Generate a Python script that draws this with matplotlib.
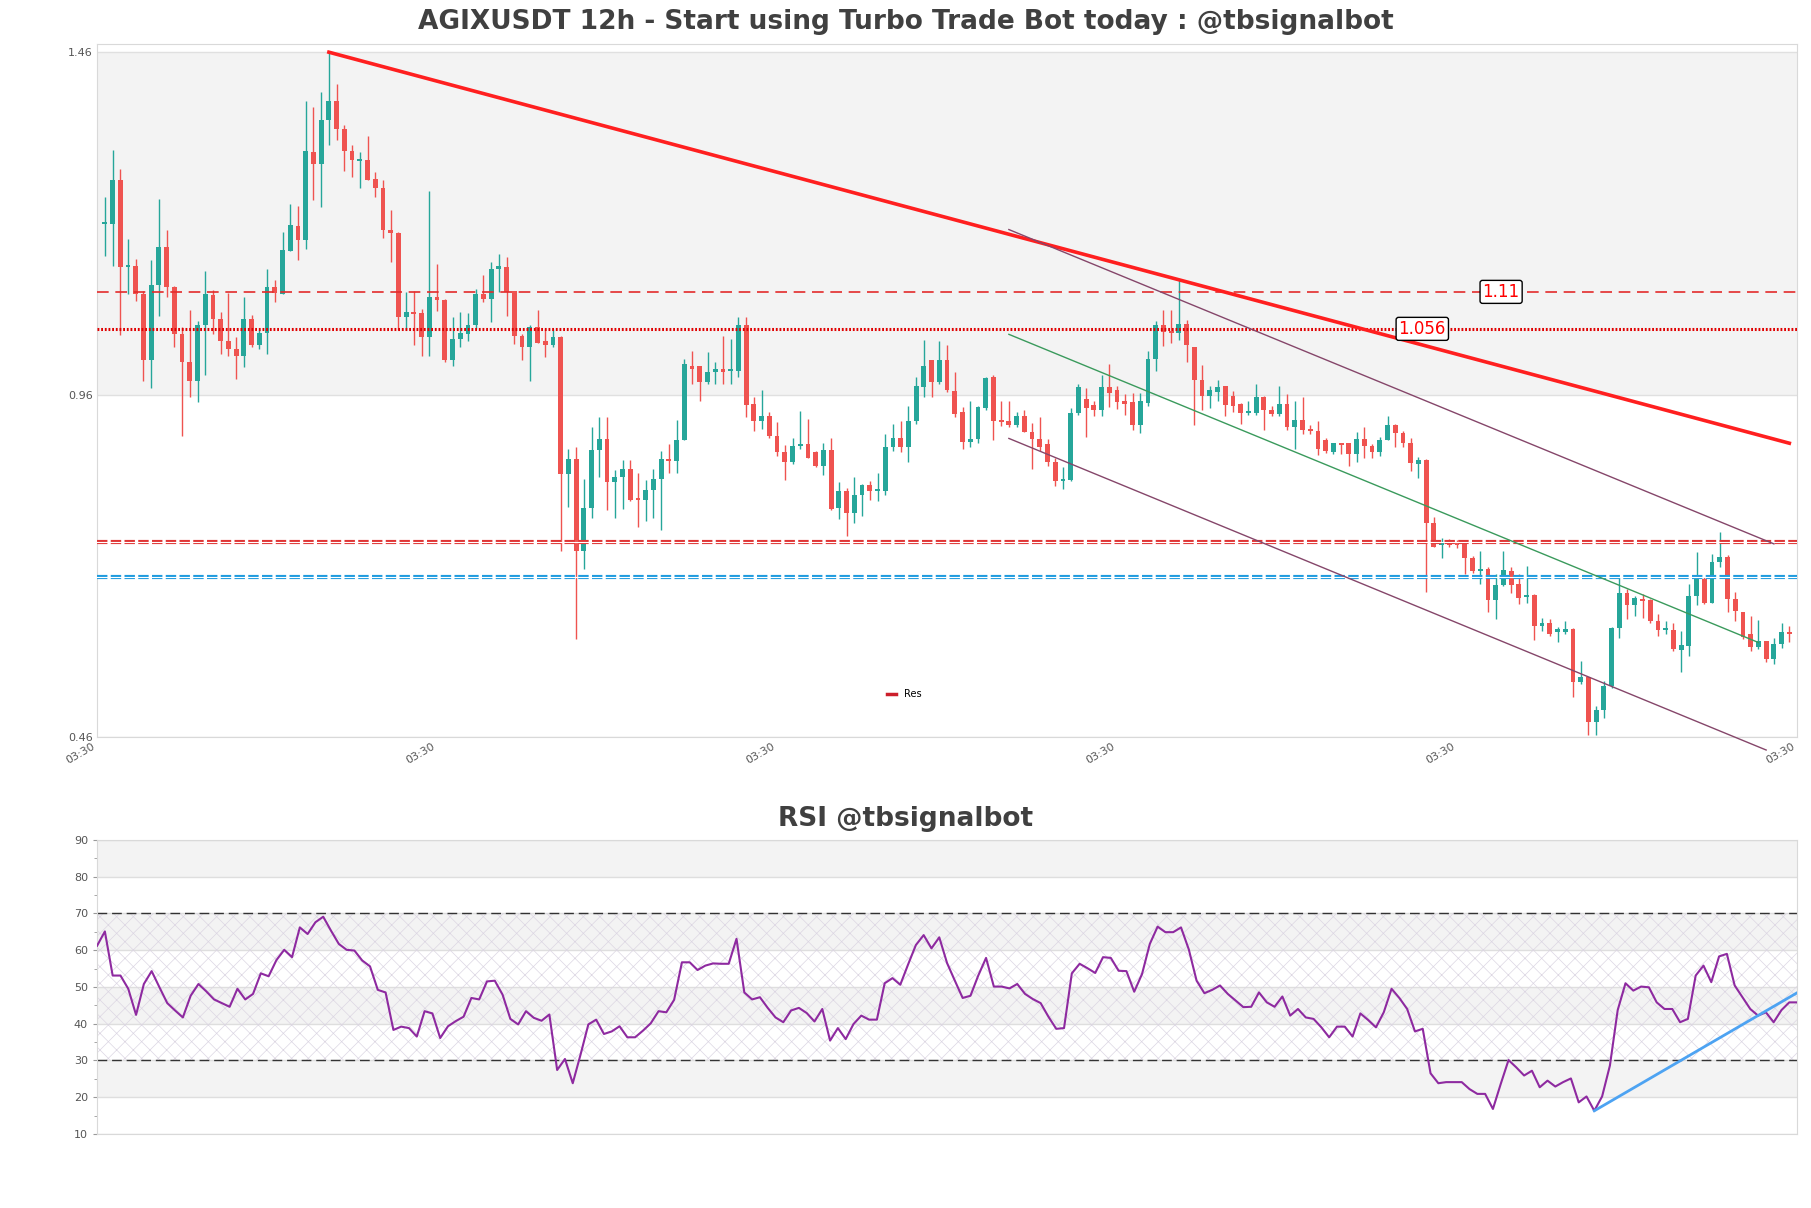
import matplotlib
matplotlib.use("Agg")
import matplotlib.pyplot as plt
from matplotlib.lines import Line2D
import numpy as np

# ---- candle data (12h) ----
opens = [1.209, 1.209, 1.273, 1.146, 1.148, 1.107, 1.010, 1.120, 1.175, 1.117,
         1.049, 1.008, 0.980, 1.061, 1.105, 1.071, 1.038, 1.027, 1.016, 1.071,
         1.033, 1.050, 1.117, 1.107, 1.170, 1.206, 1.186, 1.314, 1.297, 1.361,
         1.388, 1.348, 1.316, 1.301, 1.303, 1.275, 1.261, 1.201, 1.196, 1.073,
         1.080, 1.079, 1.044, 1.103, 1.098, 1.011, 1.041, 1.049, 1.061, 1.107,
         1.100, 1.143, 1.146, 1.111, 1.046, 1.029, 1.058, 1.038, 1.033, 1.044,
         0.844, 0.866, 0.731, 0.794, 0.879, 0.895, 0.832, 0.839, 0.852, 0.808,
         0.806, 0.821, 0.837, 0.866, 0.863, 0.893, 1.002, 1.002, 0.978, 0.993,
         0.998, 0.995, 0.994, 1.062, 0.946, 0.922, 0.929, 0.900, 0.876, 0.861,
         0.885, 0.888, 0.876, 0.856, 0.879, 0.795, 0.819, 0.787, 0.813, 0.828,
         0.819, 0.819, 0.884, 0.896, 0.884, 0.922, 0.971, 1.010, 0.978, 1.010,
         0.965, 0.934, 0.891, 0.895, 0.941, 0.985, 0.921, 0.921, 0.915, 0.929,
         0.906, 0.895, 0.888, 0.861, 0.834, 0.836, 0.933, 0.953, 0.945, 0.938,
         0.971, 0.966, 0.950, 0.949, 0.915, 0.947, 1.012, 1.061, 1.053, 1.050,
         1.063, 1.029, 0.982, 0.958, 0.964, 0.972, 0.958, 0.946, 0.933, 0.933,
         0.956, 0.937, 0.932, 0.946, 0.913, 0.923, 0.908, 0.907, 0.894, 0.876,
         0.889, 0.889, 0.873, 0.895, 0.885, 0.876, 0.894, 0.916, 0.904, 0.890,
         0.859, 0.864, 0.772, 0.740, 0.742, 0.742, 0.744, 0.721, 0.703, 0.705,
         0.660, 0.682, 0.703, 0.684, 0.664, 0.668, 0.622, 0.627, 0.614, 0.614,
         0.617, 0.541, 0.548, 0.482, 0.499, 0.535, 0.619, 0.671, 0.653, 0.661,
         0.660, 0.630, 0.616, 0.616, 0.587, 0.593, 0.666, 0.691, 0.656, 0.715,
         0.723, 0.661, 0.643, 0.610, 0.592, 0.600, 0.574, 0.596, 0.614]

highs = [1.249, 1.317, 1.290, 1.187, 1.158, 1.112, 1.156, 1.246, 1.200, 1.118,
         1.059, 1.083, 1.068, 1.140, 1.113, 1.080, 1.109, 1.044, 1.103, 1.076,
         1.054, 1.144, 1.128, 1.197, 1.238, 1.236, 1.388, 1.380, 1.402, 1.460,
         1.413, 1.354, 1.325, 1.314, 1.337, 1.285, 1.273, 1.229, 1.197, 1.110,
         1.112, 1.085, 1.258, 1.150, 1.100, 1.073, 1.080, 1.079, 1.114, 1.135,
         1.153, 1.166, 1.161, 1.112, 1.049, 1.061, 1.083, 1.056, 1.056, 1.046,
         0.881, 0.883, 0.837, 0.912, 0.928, 0.928, 0.850, 0.864, 0.864, 0.846,
         0.836, 0.851, 0.878, 0.888, 0.923, 1.012, 1.024, 1.002, 1.022, 1.008,
         1.046, 1.041, 1.073, 1.073, 0.956, 0.966, 0.935, 0.920, 0.887, 0.897,
         0.936, 0.924, 0.878, 0.890, 0.896, 0.833, 0.824, 0.839, 0.830, 0.834,
         0.846, 0.902, 0.917, 0.922, 0.944, 0.985, 1.039, 1.010, 1.038, 1.033,
         0.993, 0.942, 0.951, 0.944, 0.986, 0.988, 0.951, 0.951, 0.934, 0.937,
         0.918, 0.928, 0.895, 0.868, 0.854, 0.941, 0.976, 0.969, 0.951, 0.988,
         1.005, 0.973, 0.961, 0.963, 0.963, 1.024, 1.068, 1.083, 1.083, 1.127,
         1.069, 1.029, 1.003, 0.972, 0.982, 0.972, 0.965, 0.948, 0.950, 0.976,
         0.958, 0.944, 0.973, 0.961, 0.951, 0.956, 0.915, 0.922, 0.896, 0.890,
         0.890, 0.890, 0.905, 0.912, 0.888, 0.898, 0.929, 0.917, 0.907, 0.897,
         0.869, 0.866, 0.781, 0.751, 0.749, 0.748, 0.746, 0.725, 0.731, 0.708,
         0.698, 0.731, 0.708, 0.698, 0.710, 0.669, 0.634, 0.633, 0.620, 0.629,
         0.619, 0.571, 0.548, 0.505, 0.542, 0.620, 0.693, 0.676, 0.666, 0.669,
         0.661, 0.639, 0.630, 0.627, 0.615, 0.684, 0.730, 0.693, 0.727, 0.759,
         0.726, 0.672, 0.643, 0.637, 0.631, 0.600, 0.604, 0.627, 0.622]

lows = [1.162, 1.148, 1.047, 1.107, 1.097, 0.980, 0.969, 1.075, 1.102, 1.029,
        0.900, 0.957, 0.949, 0.988, 1.049, 1.020, 1.017, 0.983, 1.000, 1.029,
        1.027, 1.020, 1.095, 1.107, 1.170, 1.156, 1.173, 1.244, 1.234, 1.324,
        1.332, 1.287, 1.278, 1.262, 1.273, 1.249, 1.189, 1.153, 1.054, 1.054,
        1.032, 1.017, 1.017, 1.082, 1.007, 1.002, 1.030, 1.038, 1.056, 1.095,
        1.066, 1.110, 1.075, 1.034, 1.011, 0.980, 1.035, 1.015, 1.030, 0.732,
        0.796, 0.603, 0.706, 0.780, 0.840, 0.792, 0.780, 0.793, 0.805, 0.767,
        0.775, 0.780, 0.763, 0.846, 0.846, 0.893, 0.976, 0.951, 0.976, 0.976,
        0.975, 0.976, 0.985, 0.927, 0.907, 0.910, 0.896, 0.870, 0.836, 0.859,
        0.880, 0.867, 0.854, 0.843, 0.791, 0.779, 0.754, 0.772, 0.783, 0.806,
        0.805, 0.814, 0.878, 0.876, 0.862, 0.917, 0.956, 0.956, 0.975, 0.964,
        0.927, 0.880, 0.884, 0.889, 0.937, 0.894, 0.914, 0.912, 0.912, 0.906,
        0.852, 0.878, 0.856, 0.827, 0.822, 0.834, 0.930, 0.898, 0.929, 0.929,
        0.942, 0.939, 0.930, 0.909, 0.904, 0.944, 0.994, 1.031, 1.036, 1.040,
        1.008, 0.915, 0.937, 0.941, 0.950, 0.929, 0.935, 0.917, 0.930, 0.930,
        0.908, 0.929, 0.929, 0.908, 0.881, 0.902, 0.902, 0.872, 0.874, 0.873,
        0.873, 0.856, 0.861, 0.868, 0.868, 0.871, 0.893, 0.883, 0.883, 0.848,
        0.838, 0.672, 0.738, 0.721, 0.737, 0.736, 0.698, 0.700, 0.683, 0.643,
        0.633, 0.681, 0.671, 0.654, 0.656, 0.601, 0.615, 0.608, 0.599, 0.610,
        0.518, 0.537, 0.463, 0.463, 0.488, 0.532, 0.605, 0.633, 0.637, 0.634,
        0.627, 0.608, 0.610, 0.586, 0.555, 0.578, 0.653, 0.654, 0.655, 0.708,
        0.642, 0.630, 0.603, 0.585, 0.588, 0.570, 0.566, 0.590, 0.598]

closes = [1.210, 1.273, 1.146, 1.149, 1.107, 1.010, 1.120, 1.175, 1.117, 1.049,
          1.007, 0.980, 1.061, 1.107, 1.071, 1.038, 1.027, 1.016, 1.071, 1.033,
          1.050, 1.117, 1.109, 1.171, 1.207, 1.186, 1.315, 1.297, 1.361, 1.388,
          1.348, 1.316, 1.302, 1.303, 1.274, 1.261, 1.200, 1.196, 1.073, 1.080,
          1.078, 1.044, 1.102, 1.098, 1.010, 1.041, 1.050, 1.061, 1.107, 1.100,
          1.143, 1.148, 1.110, 1.046, 1.029, 1.058, 1.036, 1.033, 1.044, 0.844,
          0.866, 0.731, 0.794, 0.879, 0.895, 0.832, 0.839, 0.851, 0.806, 0.806,
          0.821, 0.837, 0.866, 0.863, 0.893, 1.005, 0.998, 0.978, 0.993, 0.998,
          0.993, 0.997, 1.062, 0.945, 0.922, 0.929, 0.900, 0.876, 0.861, 0.885,
          0.888, 0.868, 0.856, 0.879, 0.793, 0.819, 0.787, 0.813, 0.828, 0.819,
          0.820, 0.884, 0.896, 0.884, 0.922, 0.972, 1.002, 0.978, 1.010, 0.966,
          0.932, 0.891, 0.895, 0.942, 0.984, 0.921, 0.920, 0.915, 0.929, 0.906,
          0.895, 0.883, 0.861, 0.834, 0.836, 0.933, 0.971, 0.941, 0.937, 0.971,
          0.963, 0.949, 0.946, 0.915, 0.951, 1.012, 1.061, 1.051, 1.050, 1.063,
          1.032, 0.981, 0.958, 0.966, 0.971, 0.945, 0.944, 0.933, 0.936, 0.956,
          0.937, 0.932, 0.946, 0.912, 0.923, 0.908, 0.907, 0.881, 0.878, 0.889,
          0.887, 0.873, 0.895, 0.885, 0.876, 0.894, 0.916, 0.904, 0.890, 0.860,
          0.864, 0.772, 0.738, 0.742, 0.741, 0.741, 0.721, 0.703, 0.705, 0.660,
          0.682, 0.704, 0.682, 0.663, 0.666, 0.622, 0.627, 0.610, 0.616, 0.617,
          0.541, 0.548, 0.482, 0.499, 0.535, 0.619, 0.671, 0.653, 0.663, 0.659,
          0.630, 0.616, 0.617, 0.588, 0.594, 0.666, 0.691, 0.656, 0.715, 0.723,
          0.661, 0.644, 0.606, 0.592, 0.600, 0.574, 0.596, 0.614, 0.610]

rsi_values = [61.2, 65.1, 53.1, 53.1, 49.5, 42.4, 50.8, 54.3, 49.9, 45.6,
              43.6, 41.7, 47.6, 50.8, 48.8, 46.6, 45.6, 44.6, 49.5, 46.6,
              48.1, 53.7, 52.9, 57.3, 60.1, 58.1, 66.2, 64.4, 67.6, 69.1,
              65.3, 61.7, 60.1, 59.9, 57.2, 55.6, 49.2, 48.5, 38.3, 39.2,
              38.8, 36.5, 43.4, 42.8, 36.1, 39.3, 40.7, 41.9, 47.0, 46.6,
              51.5, 51.7, 47.9, 41.3, 39.8, 43.4, 41.6, 40.8, 42.5, 27.4,
              30.4, 23.8, 31.6, 39.8, 41.1, 37.2, 37.9, 39.3, 36.3, 36.3,
              38.1, 40.1, 43.4, 43.1, 46.5, 56.7, 56.7, 54.6, 55.8, 56.4,
              56.3, 56.3, 63.1, 48.5, 46.6, 47.2, 44.3, 41.7, 40.4, 43.6,
              44.3, 42.9, 40.6, 44.0, 35.4, 38.8, 35.8, 39.9, 42.2, 41.1,
              41.1, 51.0, 52.4, 50.6, 56.1, 61.4, 64.1, 60.5, 63.5, 56.5,
              51.7, 47.0, 47.6, 53.1, 57.9, 50.1, 50.1, 49.6, 50.8, 48.1,
              46.7, 45.6, 41.9, 38.6, 38.8, 53.7, 56.3, 55.1, 53.8, 58.1,
              57.9, 54.4, 54.3, 48.7, 53.5, 61.7, 66.4, 64.9, 64.9, 66.2,
              60.2, 51.7, 48.3, 49.2, 50.4, 48.1, 46.3, 44.5, 44.6, 48.5,
              45.8, 44.6, 47.4, 42.2, 44.0, 41.7, 41.3, 39.0, 36.3, 39.2,
              39.2, 36.5, 42.8, 41.0, 39.0, 43.1, 49.5, 47.0, 44.0, 37.9,
              38.6, 26.5, 23.8, 24.1, 24.1, 24.1, 22.2, 20.9, 20.9, 16.8,
              23.6, 30.1, 28.1, 25.9, 27.2, 22.7, 24.5, 22.9, 24.1, 25.1,
              18.6, 20.2, 16.3, 20.2, 28.6, 43.7, 51.0, 49.0, 50.1, 49.9,
              45.8, 44.0, 44.0, 40.4, 41.3, 53.1, 55.8, 51.3, 58.3, 59.0,
              50.4, 47.2, 44.0, 42.2, 43.1, 40.4, 43.7, 45.8, 45.8]

# axis labels / levels
price_ticks = [0.46, 0.96, 1.46]
time_ticks = [-1, 43, 87, 131, 175, 219]
time_labels = ["03:30"] * 6
rsi_ticks = [10, 20, 30, 40, 50, 60, 70, 80, 90]

level_dashed = 1.11
level_dotted = 1.056
level_red = 0.745
level_blue = 0.694

# trend lines (candle index, price)
res_x = [29, 218]
res_y = [1.46, 0.889]
chan_upper_x, chan_upper_y = [117, 216], [1.201, 0.742]
chan_mid_x, chan_mid_y = [117, 214], [1.048, 0.598]
chan_lower_x, chan_lower_y = [117, 215], [0.896, 0.441]
rsi_trend_x = [192, 218]
rsi_trend_y = [16.3, 48.4]

UP = "#26a69a"
DOWN = "#ef5350"
BAND = "#f3f3f3"
TXT = "#555555"

plt.rcParams["hatch.linewidth"] = 0.5

fig = plt.figure(figsize=(18.11, 12.08), dpi=100)
ax = fig.add_axes([0.0536, 0.3899, 0.9387, 0.5737])
ax2 = fig.add_axes([0.0536, 0.0613, 0.9387, 0.2434])

# ---- price panel ----
o = np.array(opens)
h = np.array(highs)
l = np.array(lows)
c = np.array(closes)
x = np.arange(len(o))
colors = np.where(c >= o, UP, DOWN)

ax.axhspan(0.96, 1.46, color=BAND, zorder=0, lw=0)
ax.vlines(x, l, h, color=colors, lw=1, zorder=3)
ax.bar(x, np.maximum(np.abs(c - o), 0.003), bottom=np.minimum(o, c),
       width=0.62, color=colors, lw=0, zorder=4)

ax.axhline(level_dashed, color="#e32b2b", lw=1.2, dashes=(7, 4), zorder=5)
ax.axhline(level_dotted, color="#e00000", lw=2.2, linestyle=(0, (0.6, 0.6)), zorder=5)
ax.axhline(level_red, color="#e03535", lw=3, dashes=(2.5, 0.8), zorder=5)
ax.axhline(level_red, color="white", lw=0.8, zorder=5)
ax.axhline(level_blue, color="#1f9bde", lw=3, dashes=(2.5, 0.8), zorder=5)
ax.axhline(level_blue, color="white", lw=0.8, zorder=5)

ax.plot(res_x, res_y, color="#ff1f1f", lw=2.6, zorder=6)
ax.plot(chan_upper_x, chan_upper_y, color="#85466a", lw=1, zorder=6, clip_on=False)
ax.plot(chan_lower_x, chan_lower_y, color="#85466a", lw=1, zorder=6, clip_on=False)
ax.plot(chan_mid_x, chan_mid_y, color="#3a9a5c", lw=1, zorder=6)

box = dict(boxstyle="round,pad=0.15", fc="white", ec="black", lw=1)
ax.text(180.7, level_dashed, "1.11", color="red", fontsize=12,
        ha="center", va="center", bbox=box, zorder=7)
ax.text(170.5, level_dotted, "1.056", color="red", fontsize=12,
        ha="center", va="center", bbox=box, zorder=7)

ax.legend(handles=[Line2D([], [], color="#cc1f2b", lw=2.5)], labels=["Res"],
          loc="center", bbox_to_anchor=(0.475, 0.062), frameon=False,
          fontsize=7, handlelength=0.9)

ax.set_xlim(-1, 219)
ax.set_ylim(0.46, 1.472)
ax.set_yticks(price_ticks)
ax.set_yticklabels([f"{v:.2f}" for v in price_ticks])
ax.set_xticks(time_ticks)
ax.set_xticklabels(time_labels, rotation=30, ha="right")
ax.tick_params(length=0, labelsize=8, labelcolor=TXT, pad=3)
ax.grid(axis="y", color="#e0e0e0", lw=1)
ax.set_axisbelow(True)
for s in ax.spines.values():
    s.set_color("#d9d9d9")

# ---- RSI panel ----
for lo in (20, 40, 60, 80):
    ax2.axhspan(lo, lo + 10, color=BAND, zorder=0, lw=0)
ax2.axhspan(30, 70, facecolor="none", edgecolor="#dcd6e3", hatch="xx", lw=0, zorder=0.6)
ax2.axhline(30, color="#333333", lw=1, dashes=(7, 3.5), zorder=2)
ax2.axhline(70, color="#333333", lw=1, dashes=(7, 3.5), zorder=2)
ax2.plot(np.arange(len(rsi_values)), rsi_values, color="#8e2aa0", lw=1.5, zorder=3)
ax2.plot(rsi_trend_x, rsi_trend_y, color="#4da3f2", lw=2, zorder=4)

ax2.set_xlim(0, len(rsi_values) - 1)
ax2.set_ylim(10, 90)
ax2.set_yticks(rsi_ticks)
ax2.set_yticks(range(15, 90, 10), minor=True)
ax2.tick_params(axis="y", which="major", length=3, color="#999999",
                labelsize=8, labelcolor=TXT)
ax2.tick_params(axis="y", which="minor", length=2, color="#999999")
ax2.tick_params(axis="x", bottom=False, labelbottom=False)
ax2.grid(axis="y", color="#dedede", lw=1)
ax2.set_axisbelow(True)
for s in ax2.spines.values():
    s.set_color("#d9d9d9")

fig.text(0.5, 1 - 22 / 1208, "AGIXUSDT 12h - Start using Turbo Trade Bot today : @tbsignalbot",
         ha="center", va="center", fontsize=19, fontweight="bold", color="#404040")
fig.text(0.5, 1 - 819 / 1208, "RSI @tbsignalbot",
         ha="center", va="center", fontsize=19, fontweight="bold", color="#404040")

fig.savefig("out.png", dpi=100)
